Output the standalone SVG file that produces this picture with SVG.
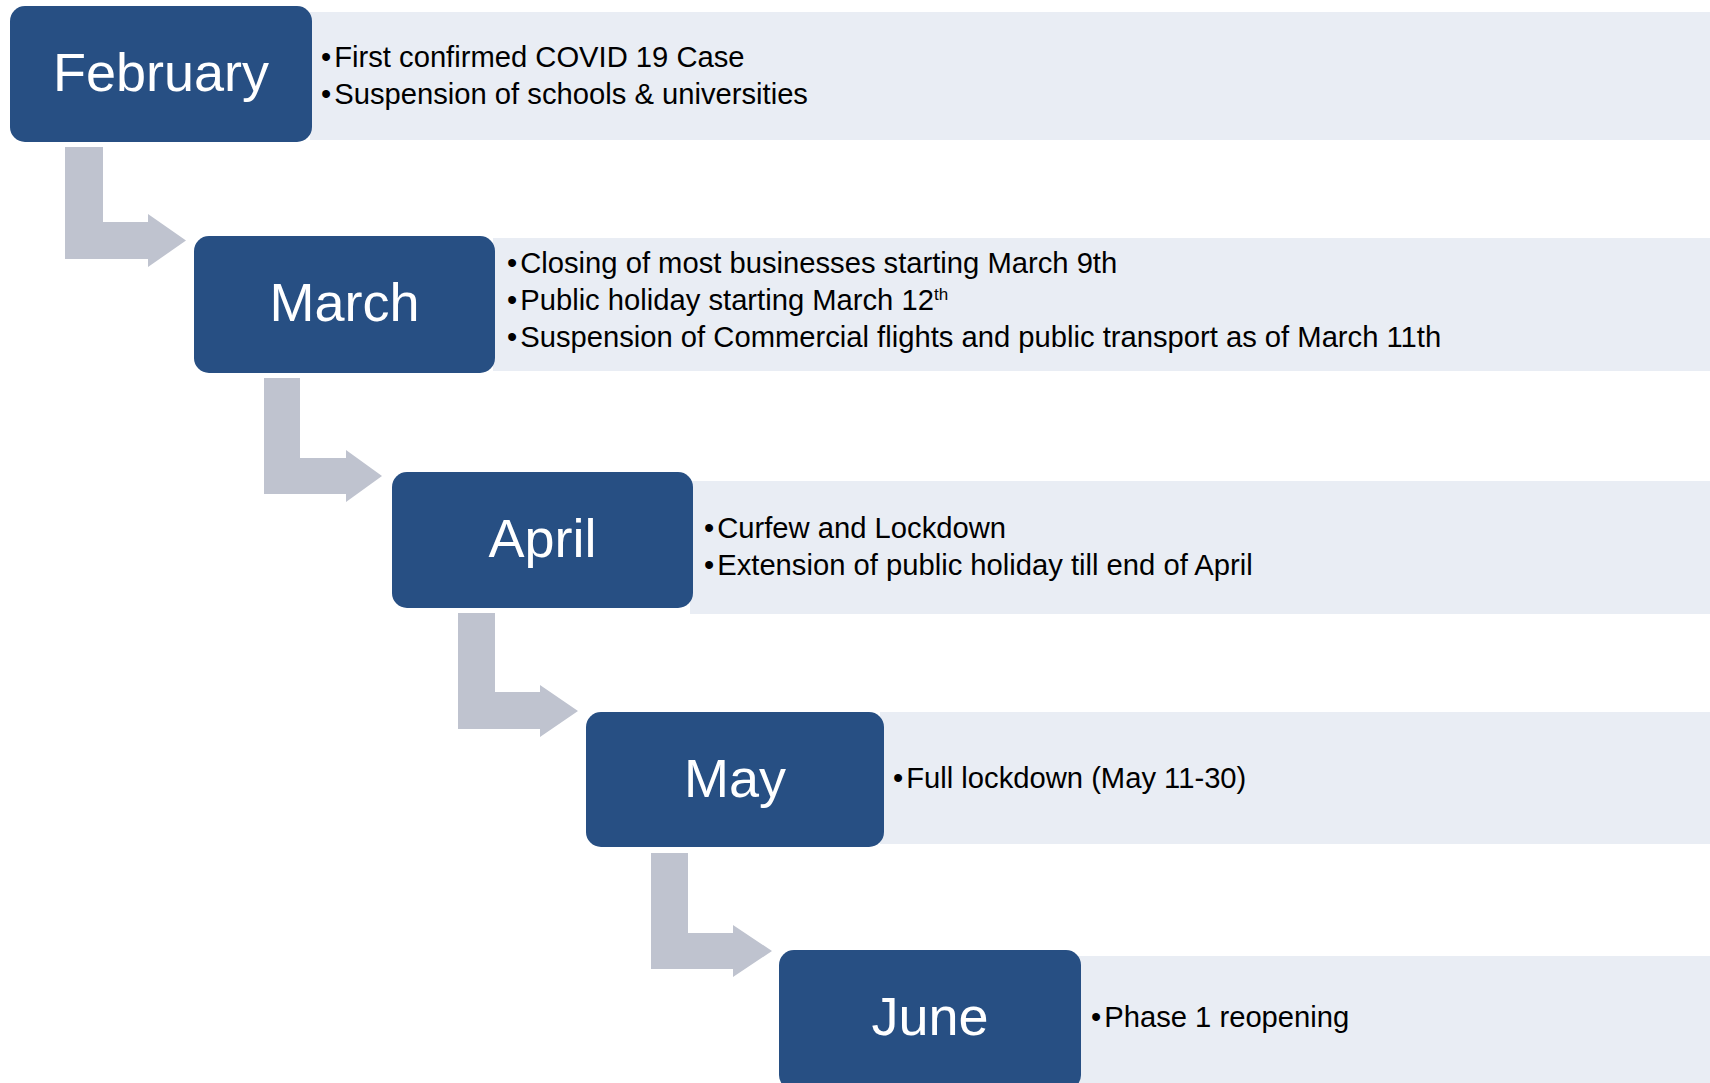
<svg xmlns="http://www.w3.org/2000/svg" width="1710" height="1083" viewBox="0 0 1710 1083">
<defs>
<style>
.box{fill:#274F83;}
.panel{fill:#E9EDF4;}
.arrow{fill:#BFC3CF;}
.month{font-family:"Liberation Sans",Arial,sans-serif;font-size:54px;fill:#FFFFFF;text-anchor:middle;}
.item{font-family:"Liberation Sans",Arial,sans-serif;font-size:29.2px;fill:#000000;}
</style>
</defs>
<rect width="1710" height="1083" fill="#FFFFFF"/>
<g id="connectors">
<path class="arrow" d="M65,147 H103 V222 H148 V214 L186,240.5 L148,267 V259 H65 Z"/>
<path class="arrow" d="M264,378 H300 V458 H346 V450 L382,476 L346,502 V494 H264 Z"/>
<path class="arrow" d="M458,613 H495 V692 H540 V685 L578,711 L540,737 V729 H458 Z"/>
<path class="arrow" d="M651,853 H688 V933 H733 V925 L772,951 L733,977 V969 H651 Z"/>
</g>
<g id="february">
<rect class="panel" x="310" y="12" width="1400" height="128"/>
<rect class="box" x="10" y="6" width="302" height="136" rx="15"/>
<text class="month" x="161" y="91">February</text>
<text class="item" x="321" y="67">•<tspan dx="3">First confirmed COVID 19 Case</tspan></text>
<text class="item" x="321" y="104">•<tspan dx="3">Suspension of schools &amp; universities</tspan></text>
</g>
<g id="march">
<rect class="panel" x="493" y="238" width="1217" height="133"/>
<rect class="box" x="194" y="236" width="301" height="137" rx="15"/>
<text class="month" x="344.5" y="321">March</text>
<text class="item" x="507" y="273">•<tspan dx="3">Closing of most businesses starting March 9th</tspan></text>
<text class="item" x="507" y="310">•<tspan dx="3">Public holiday starting March 12</tspan><tspan font-size="17" dy="-10">th</tspan></text>
<text class="item" x="507" y="347">•<tspan dx="3">Suspension of Commercial flights and public transport as of March 11th</tspan></text>
</g>
<g id="april">
<rect class="panel" x="690" y="481" width="1020" height="133"/>
<rect class="box" x="392" y="472" width="301" height="136" rx="15"/>
<text class="month" x="542.5" y="557">April</text>
<text class="item" x="704" y="538">•<tspan dx="3">Curfew and Lockdown</tspan></text>
<text class="item" x="704" y="575">•<tspan dx="3">Extension of public holiday till end of April</tspan></text>
</g>
<g id="may">
<rect class="panel" x="880" y="712" width="830" height="132"/>
<rect class="box" x="586" y="712" width="298" height="135" rx="15"/>
<text class="month" x="735" y="797">May</text>
<text class="item" x="893" y="788">•<tspan dx="3">Full lockdown (May 11-30)</tspan></text>
</g>
<g id="june">
<rect class="panel" x="1078" y="956" width="632" height="140"/>
<rect class="box" x="779" y="950" width="302" height="140" rx="15"/>
<text class="month" x="930" y="1035">June</text>
<text class="item" x="1091" y="1027">•<tspan dx="3">Phase 1 reopening</tspan></text>
</g>
</svg>
